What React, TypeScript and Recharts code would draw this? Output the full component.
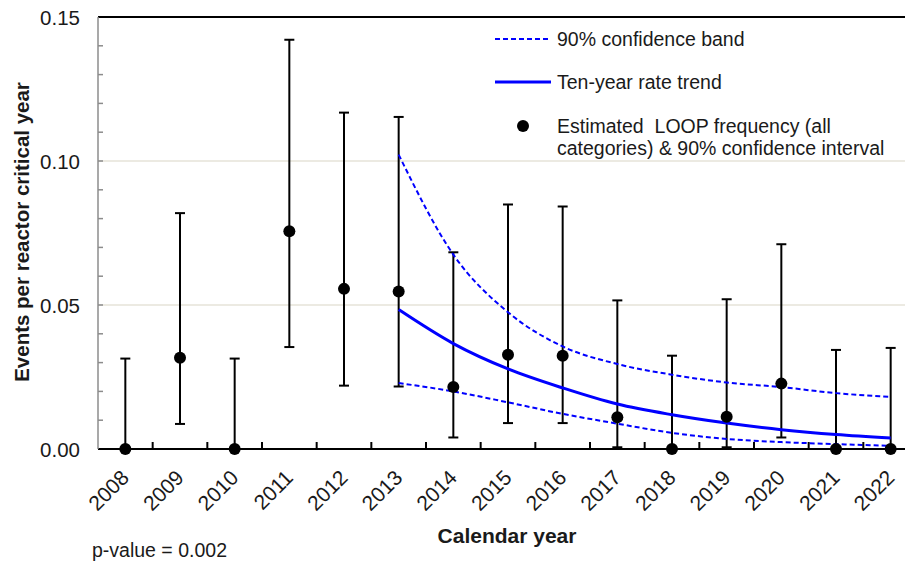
import React from 'react';
import {
  ComposedChart,
  ErrorBar,
  Line,
  ReferenceLine,
  Scatter,
  XAxis,
  YAxis,
} from 'recharts';

const years = [2008, 2009, 2010, 2011, 2012, 2013, 2014, 2015, 2016, 2017, 2018, 2019, 2020, 2021, 2022];
const estimate = [0, 0.0317, 0, 0.0756, 0.0556, 0.0547, 0.0215, 0.0327, 0.0324, 0.011, 0, 0.0112, 0.0227, 0, 0];
const ciLower = [0, 0.0087, 0, 0.0354, 0.022, 0.0217, 0.004, 0.009, 0.009, 0.0006, 0, 0.0006, 0.004, 0, 0];
const ciUpper = [0.0314, 0.0819, 0.0314, 0.1421, 0.1168, 0.1153, 0.0683, 0.0849, 0.0842, 0.0516, 0.0324, 0.052, 0.0711, 0.0344, 0.0351];

const trendYears = [2013, 2014, 2015, 2016, 2017, 2018, 2019, 2020, 2021, 2022];
const trend = [0.0484, 0.0366, 0.0278, 0.0212, 0.0156, 0.0119, 0.009, 0.0067, 0.005, 0.0038];
const bandLower = [0.0229, 0.02, 0.0162, 0.0122, 0.0088, 0.0056, 0.0035, 0.0024, 0.0017, 0.0011];
const bandUpper = [0.1022, 0.0675, 0.0475, 0.0356, 0.0295, 0.0258, 0.0231, 0.0215, 0.0194, 0.0181];

const yTicks = [0, 0.01, 0.02, 0.03, 0.04, 0.05, 0.06, 0.07, 0.08, 0.09, 0.1, 0.11, 0.12, 0.13, 0.14, 0.15];

const data = years.map((year, i) => {
  const t = trendYears.indexOf(year);
  return {
    year,
    estimate: estimate[i],
    err: [estimate[i] - ciLower[i], ciUpper[i] - estimate[i]],
    trend: t >= 0 ? trend[t] : null,
    bandLower: t >= 0 ? bandLower[t] : null,
    bandUpper: t >= 0 ? bandUpper[t] : null,
  };
});

// layout
const CHART_W = 926;
const CHART_H = 562;
const PLOT_LEFT = 98;
const PLOT_RIGHT = CHART_W - 8;
const PLOT_BOTTOM = 449;
const BAND = (PLOT_RIGHT - PLOT_LEFT) / years.length;
const FONT = '"Liberation Sans", Arial, sans-serif';
const BLUE = '#0000ff';

function YTick({ y, payload }: any) {
  const v = payload.value as number;
  const major = Math.round(v * 100) % 5 === 0;
  return (
    <g>
      {v > 0 && v < 0.15 && (
        <line x1={PLOT_LEFT} x2={PLOT_LEFT + 5} y1={y} y2={y} stroke="#8c8c8c" strokeWidth={1.5} />
      )}
      {major && (
        <text x={PLOT_LEFT - 18} y={y + 7.5} textAnchor="end" fontSize={20.5} fontFamily={FONT} fill="#1a1a1a">
          {v.toFixed(2)}
        </text>
      )}
    </g>
  );
}

function XTick({ x, payload }: any) {
  const year = payload.value as number;
  const ax = x + 5;
  const ay = 479;
  return (
    <g>
      {year < years[years.length - 1] && (
        <line x1={x + BAND / 2} x2={x + BAND / 2} y1={PLOT_BOTTOM} y2={PLOT_BOTTOM - 7} stroke="#000" strokeWidth={2} />
      )}
      <text x={ax} y={ay} textAnchor="end" transform={`rotate(-45 ${ax} ${ay})`} fontSize={21} fontFamily={FONT} fill="#1a1a1a">
        {year}
      </text>
    </g>
  );
}

const Dot = (props: any) => <circle cx={props.cx} cy={props.cy} r={6} fill="#000" />;

export default function App() {
  return (
    <div
      style={{
        position: 'absolute',
        left: 0,
        top: 0,
        width: 905,
        height: 562,
        overflow: 'hidden',
        background: '#fff',
        fontFamily: FONT,
      }}
    >
      <ComposedChart
        width={CHART_W}
        height={CHART_H}
        data={data}
        margin={{ top: 17, right: 8, bottom: 53, left: 38 }}
      >
        <XAxis
          type="number"
          dataKey="year"
          domain={[2007.5, 2022.5]}
          ticks={years}
          interval={0}
          tick={<XTick />}
          tickLine={false}
          axisLine={{ stroke: '#000', strokeWidth: 2 }}
          height={60}
        />
        <YAxis
          type="number"
          domain={[0, 0.15]}
          ticks={yTicks}
          interval={0}
          tick={<YTick />}
          tickLine={false}
          axisLine={{ stroke: '#8c8c8c', strokeWidth: 1.5 }}
          width={60}
        />
        <ReferenceLine y={0.05} stroke="#e6e3d8" strokeWidth={1.5} />
        <ReferenceLine y={0.1} stroke="#e6e3d8" strokeWidth={1.5} />
        <ReferenceLine y={0.15} stroke="#000" strokeWidth={2} />
        <Scatter dataKey="estimate" shape={Dot} isAnimationActive={false}>
          <ErrorBar dataKey="err" direction="y" width={5} stroke="#000" strokeWidth={2} isAnimationActive={false} />
        </Scatter>
        <Line
          type="monotone"
          dataKey="bandUpper"
          stroke={BLUE}
          strokeWidth={2}
          strokeDasharray="5 3"
          dot={false}
          isAnimationActive={false}
        />
        <Line
          type="monotone"
          dataKey="bandLower"
          stroke={BLUE}
          strokeWidth={2}
          strokeDasharray="5 3"
          dot={false}
          isAnimationActive={false}
        />
        <Line
          type="monotone"
          dataKey="trend"
          stroke={BLUE}
          strokeWidth={3}
          dot={false}
          isAnimationActive={false}
        />
      </ComposedChart>

      <svg
        width={905}
        height={562}
        style={{ position: 'absolute', left: 0, top: 0, pointerEvents: 'none' }}
        fontFamily={FONT}
      >
        <text
          x={28.5}
          y={232}
          transform="rotate(-90 28.5 232)"
          textAnchor="middle"
          fontSize={20.5}
          fontWeight="bold"
          fill="#1a1a1a"
        >
          Events per reactor critical year
        </text>
        <text x={507} y={543} textAnchor="middle" fontSize={21} fontWeight="bold" fill="#1a1a1a">
          Calendar year
        </text>
        <text x={92} y={557} fontSize={19.5} fill="#1a1a1a">
          p-value = 0.002
        </text>

        <line x1={495} x2={551} y1={39} y2={39} stroke={BLUE} strokeWidth={2} strokeDasharray="5 3" />
        <text x={557} y={46} fontSize={19.5} fill="#1a1a1a">
          90% confidence band
        </text>
        <line x1={495} x2={551} y1={82} y2={82} stroke={BLUE} strokeWidth={3} />
        <text x={557} y={89} fontSize={19.5} fill="#1a1a1a">
          Ten-year rate trend
        </text>
        <circle cx={523} cy={126} r={6} fill="#000" />
        <text x={557} y={133} fontSize={19.5} fill="#1a1a1a" style={{ whiteSpace: 'pre' }}>
          Estimated  LOOP frequency (all
        </text>
        <text x={557} y={155} fontSize={19.5} fill="#1a1a1a">
          categories) &amp; 90% confidence interval
        </text>
      </svg>
    </div>
  );
}
